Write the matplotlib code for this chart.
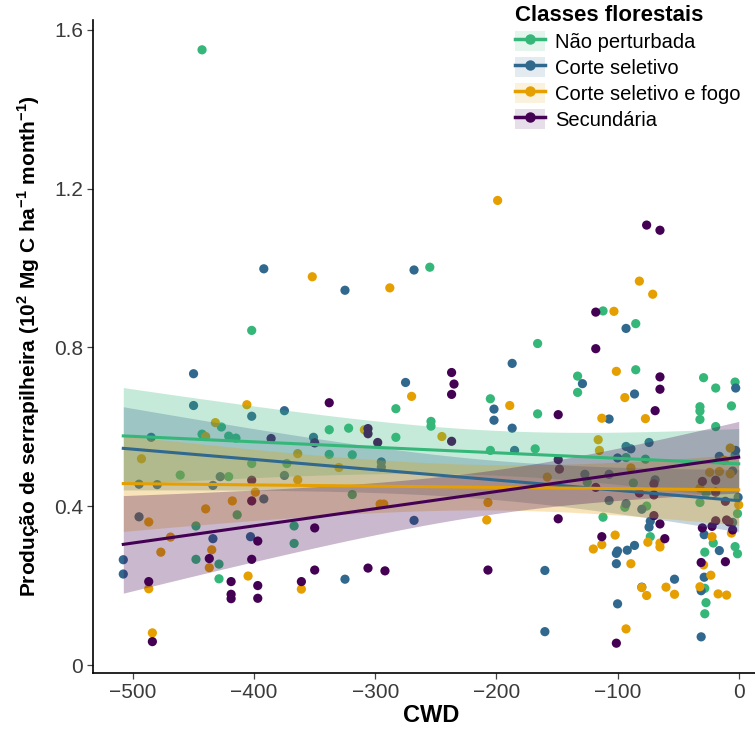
import numpy as np
import matplotlib
matplotlib.use("Agg")
import matplotlib.pyplot as plt
from matplotlib.lines import Line2D
from matplotlib.patches import Patch

plt.rcParams['font.family'] = ['Liberation Sans', 'DejaVu Sans']
plt.rcParams['mathtext.fontset'] = 'custom'
plt.rcParams['mathtext.rm'] = 'Liberation Sans'
plt.rcParams['mathtext.bf'] = 'Liberation Sans:bold'

classes = ["Não perturbada", "Corte seletivo", "Corte seletivo e fogo", "Secundária"]
colors = ["#35B779", "#31688E", "#E69F00", "#440154"]

# CWD, litterfall pairs
nao_perturbada = [
    (-443, 1.549), (-402, 0.843), (-255, 1.002), (-166, 0.810), (-112, 0.892), (-85, 0.860),
    (-443, 0.582), (-427, 0.600), (-421, 0.577), (-415, 0.572), (-402, 0.508), (-373, 0.508),
    (-461, 0.479), (-421, 0.475), (-414, 0.379), (-448, 0.351), (-367, 0.351), (-367, 0.307),
    (-448, 0.267), (-429, 0.255), (-429, 0.218),
    (-205, 0.671), (-283, 0.646), (-254, 0.614), (-254, 0.602), (-338, 0.593), (-322, 0.597),
    (-283, 0.574), (-205, 0.541), (-338, 0.531), (-319, 0.530), (-319, 0.430),
    (-85, 0.744), (-133, 0.728), (-133, 0.687), (-29, 0.724), (-19, 0.698), (-3, 0.713),
    (-6, 0.653), (-32, 0.651), (-32, 0.640), (-32, 0.619), (-166, 0.633), (-19, 0.601),
    (-168, 0.545), (-3, 0.530), (-93, 0.523), (-77, 0.519), (-125, 0.461), (-87, 0.459),
    (-27, 0.434), (-32, 0.410), (-94, 0.398), (-76, 0.401), (-1, 0.382), (-112, 0.373),
    (-73, 0.324), (-21, 0.308), (-3, 0.299), (-1, 0.281), (-28, 0.285), (-28, 0.194),
    (-27, 0.158), (-28, 0.130),
]
corte_seletivo = [
    (-392, 0.998), (-325, 0.944), (-268, 0.995), (-93, 0.848),
    (-450, 0.734), (-450, 0.654), (-375, 0.641), (-402, 0.627), (-485, 0.574), (-351, 0.574),
    (-428, 0.475), (-375, 0.478), (-495, 0.456), (-480, 0.455), (-434, 0.453), (-392, 0.419),
    (-495, 0.374), (-434, 0.319), (-403, 0.324), (-508, 0.266), (-508, 0.230),
    (-187, 0.760), (-275, 0.712), (-202, 0.645), (-202, 0.617), (-187, 0.597), (-185, 0.541),
    (-295, 0.512), (-295, 0.499), (-268, 0.365), (-325, 0.217),
    (-129, 0.709), (-2.5, 0.698), (-86, 0.683), (-107, 0.620), (-74, 0.561), (-93, 0.551),
    (-89, 0.545), (-2.5, 0.541), (-16, 0.526), (-100, 0.522), (-5, 0.489), (-127, 0.481),
    (-107, 0.481), (-69, 0.467), (-0.5, 0.423), (-107, 0.415), (-93, 0.407), (-80, 0.393),
    (-73, 0.363), (-5, 0.360), (-74, 0.348), (-28.5, 0.329), (-86, 0.302), (-92, 0.290),
    (-100, 0.288), (-101, 0.282), (-16, 0.289), (-101, 0.256), (-160, 0.239), (-28.5, 0.222),
    (-53, 0.217), (-80, 0.197), (-31, 0.188), (-100, 0.155), (-160, 0.085), (-31, 0.072),
]
corte_fogo = [
    (-352, 0.978), (-288, 0.950), (-199, 1.170), (-82, 0.967), (-71, 0.934), (-103, 0.891),
    (-406, 0.656), (-432, 0.611), (-440, 0.576), (-493, 0.520), (-364, 0.533), (-364, 0.467),
    (-399, 0.436), (-418, 0.414), (-440, 0.394), (-487, 0.361), (-469, 0.323), (-435, 0.291),
    (-477, 0.285), (-437, 0.246), (-405, 0.225), (-487, 0.193), (-361, 0.192), (-484, 0.082),
    (-270, 0.677), (-189, 0.654), (-309, 0.593), (-245, 0.576), (-330, 0.498), (-296, 0.406),
    (-293, 0.406), (-207, 0.410), (-208, 0.366),
    (-101, 0.740), (-94, 0.674), (-77, 0.621), (-113, 0.622), (-116, 0.568), (-115, 0.541),
    (-7, 0.547), (-12, 0.516), (-89, 0.497), (-24, 0.486), (-16, 0.488), (-7, 0.482),
    (-158, 0.474), (-32, 0.446), (0, 0.404), (-6, 0.333), (-102, 0.328), (-22, 0.324),
    (-113, 0.304), (-120, 0.293), (-75, 0.310), (-65, 0.308), (-65, 0.298), (-89, 0.256),
    (-29, 0.253), (-23, 0.227), (-60, 0.197), (-53, 0.179), (-80, 0.196), (-76, 0.176),
    (-32, 0.198), (-17, 0.180), (-10, 0.177), (-93, 0.092),
]
secundaria = [
    (-76, 1.108), (-65, 1.095), (-118, 0.889),
    (-386, 0.571), (-350, 0.560), (-402, 0.466), (-402, 0.414), (-350, 0.346), (-397, 0.313),
    (-437, 0.269), (-402, 0.267), (-350, 0.240), (-487, 0.211), (-419, 0.211), (-361, 0.211),
    (-397, 0.201), (-419, 0.179), (-419, 0.168), (-397, 0.169), (-484, 0.060),
    (-237, 0.737), (-235, 0.708), (-237, 0.682), (-338, 0.661), (-306, 0.596), (-306, 0.583),
    (-298, 0.561), (-237, 0.564), (-306, 0.245), (-292, 0.238), (-207, 0.240),
    (-118, 0.797), (-65, 0.726), (-65, 0.695), (-149, 0.631), (-69, 0.641), (-149, 0.518),
    (-148, 0.494), (-70, 0.457), (-30, 0.463), (-19, 0.466), (-118, 0.448), (-19, 0.436),
    (-82, 0.434), (-70, 0.429), (-11, 0.413), (-149, 0.369), (-70, 0.377), (-19, 0.364),
    (-10, 0.366), (-8, 0.361), (-65, 0.356), (-30, 0.346), (-22, 0.350), (-5, 0.341),
    (-113, 0.324), (-61, 0.319), (-31, 0.259), (-11, 0.261), (-101, 0.056),
]
groups = [nao_perturbada, corte_seletivo, corte_fogo, secundaria]

x_ticks = [-500, -400, -300, -200, -100, 0]
y_ticks = [0, 0.4, 0.8, 1.2, 1.6]
y_ticklabels = ["0", "0.4", "0.8", "1.2", "1.6"]

fig = plt.figure(figsize=(7.55, 7.29), dpi=100)
# panel runs a little past the right edge of the picture (cropped like the original)
ax = fig.add_axes([93 / 755, 56 / 729, 676 / 755, 653 / 729])

all_x = np.concatenate([np.array(g)[:, 0] for g in groups])
xfit = np.linspace(all_x.min(), all_x.max(), 100)

# points first, smooths over them (like geom_point + geom_smooth)
for g, c in zip(groups, colors):
    d = np.array(g)
    ax.scatter(d[:, 0], d[:, 1], s=44, color=c, edgecolors='none', zorder=2)

for g, c in zip(groups, colors):
    d = np.array(g)
    x, y = d[:, 0], d[:, 1]
    n = len(x)
    b, a = np.polyfit(x, y, 1)
    resid = y - (a + b * x)
    s = np.sqrt(np.sum(resid ** 2) / (n - 2))
    sxx = np.sum((x - x.mean()) ** 2)
    se = s * np.sqrt(1.0 / n + (xfit - x.mean()) ** 2 / sxx)
    yfit = a + b * xfit
    t = 1.995
    ax.fill_between(xfit, yfit - t * se, yfit + t * se, color=c, alpha=0.28, lw=0, zorder=3)
    ax.plot(xfit, yfit, color=c, lw=2.2, zorder=4)

ax.set_xlim(-533, 25)
ax.set_ylim(-0.019, 1.624)
ax.set_xticks(x_ticks)
ax.set_xticklabels([str(v).replace('-', '\u2212') for v in x_ticks])
ax.set_yticks(y_ticks)
ax.set_yticklabels(y_ticklabels)
ax.tick_params(labelsize=15, length=4, width=0.9, color='#444444', labelcolor='#3a3a3a', pad=3)
for side in ['top', 'right']:
    ax.spines[side].set_visible(False)
for side in ['left', 'bottom']:
    ax.spines[side].set_linewidth(1.2)

ax.set_xlabel("CWD", fontsize=17, fontweight='bold', labelpad=2)
ax.set_ylabel(r"Produção de serrapilheira (10$^{\mathbf{2}}$ Mg C ha$^{\mathbf{-1}}$ month$^{\mathbf{-1}}$)",
              fontsize=15, fontweight='bold', labelpad=9)

handles = []
for c in colors:
    handles.append((Patch(facecolor=c, alpha=0.13, edgecolor='none'),
                    Line2D([], [], color=c, lw=2.5, marker='o', markersize=6.5)))
leg = ax.legend(handles, classes, title="Classes florestais", loc='upper left',
                bbox_to_anchor=(515 / 755, 1 - 5 / 729), bbox_transform=fig.transFigure,
                frameon=False, fontsize=14.5, title_fontproperties={'weight': 'bold', 'size': 16},
                handlelength=1.5, handleheight=1.2, handletextpad=0.5, labelspacing=0.24,
                borderaxespad=0, borderpad=0)
leg._legend_box.align = 'left'

fig.savefig("out.png", dpi=100)
